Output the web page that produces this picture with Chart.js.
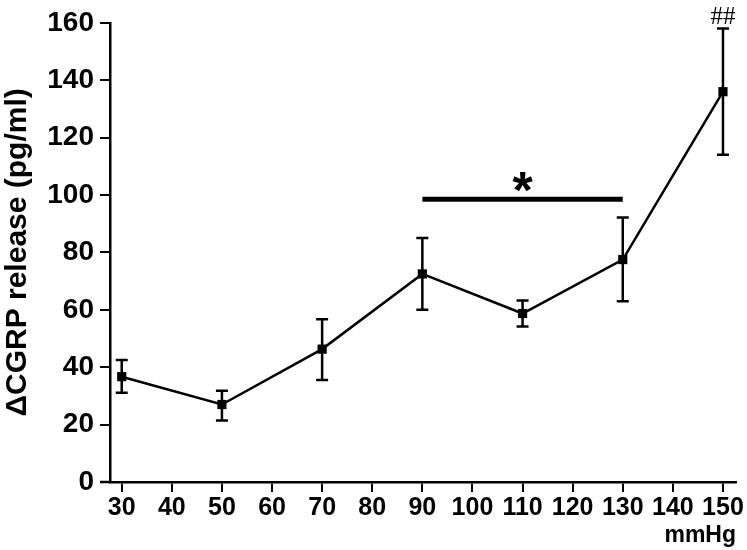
<!DOCTYPE html>
<html>
<head>
<meta charset="utf-8">
<script src="https://cdn.jsdelivr.net/npm/chart.js@4.4.1/dist/chart.umd.min.js"></script>
<style>
  html, body { margin: 0; padding: 0; background: #fff; }
  #wrap { width: 747px; height: 550px; }
</style>
</head>
<body>
<div id="wrap"><canvas id="cgrpChart" width="747" height="550"></canvas></div>
<script>
// pressure steps (mmHg) and CGRP release
const pressures = [30, 50, 70, 90, 110, 130, 150];
const cgrp = [36.7, 27.0, 46.3, 72.5, 58.7, 77.5, 136.0];
const errLow = [31.1, 21.4, 35.5, 60.0, 54.2, 63.0, 114.0];
const errHigh = [42.5, 31.8, 56.7, 85.0, 63.2, 92.2, 158.0];

const xTicks = [30, 40, 50, 60, 70, 80, 90, 100, 110, 120, 130, 140, 150];
const yTicks = [0, 20, 40, 60, 80, 100, 120, 140, 160];

// significance marks
const sigFrom = 90;
const sigTo = 130;
const sigLevel = 98.5;
const sigLabel = '*';
const hashIndex = 6;
const hashLabel = '##';

const ctx = document.getElementById('cgrpChart');
Chart.defaults.font.family = "'Liberation Sans', Arial, sans-serif";
Chart.defaults.color = '#000';

const errorBars = {
    id: 'errorBars',
    beforeDatasetsDraw(chart) {
        const c = chart.ctx;
        const xs = chart.scales.x;
        const ys = chart.scales.y;
        c.save();
        c.strokeStyle = '#000';
        c.lineWidth = 2.5;
        for (let i = 0; i < pressures.length; i++) {
            const x = xs.getPixelForValue(pressures[i]);
            const yt = ys.getPixelForValue(errHigh[i]);
            const yb = ys.getPixelForValue(errLow[i]);
            c.beginPath();
            c.moveTo(x, yt); c.lineTo(x, yb);
            c.moveTo(x - 6, yt); c.lineTo(x + 6, yt);
            c.moveTo(x - 6, yb); c.lineTo(x + 6, yb);
            c.stroke();
        }
        c.restore();
    },
    afterDraw(chart) {
        const c = chart.ctx;
        const xs = chart.scales.x;
        const ys = chart.scales.y;
        const area = chart.chartArea;
        c.save();
        // x axis runs a little past the y axis
        c.strokeStyle = '#000';
        c.lineWidth = 2.5;
        c.beginPath();
        c.moveTo(area.left - 10, area.bottom);
        c.lineTo(area.left, area.bottom);
        c.stroke();

        // significance bar with star
        const y = ys.getPixelForValue(sigLevel);
        c.lineWidth = 5;
        c.beginPath();
        c.moveTo(xs.getPixelForValue(sigFrom), y);
        c.lineTo(xs.getPixelForValue(sigTo), y);
        c.stroke();
        c.font = "bold 52px 'Liberation Sans', Arial, sans-serif";
        c.textAlign = 'center';
        c.textBaseline = 'alphabetic';
        let m = c.measureText(sigLabel);
        const starX = xs.getPixelForValue((sigFrom + sigTo) / 2);
        const starY = y - 17;
        c.fillStyle = '#000';
        c.fillText(sigLabel, starX, starY + (m.actualBoundingBoxAscent - m.actualBoundingBoxDescent) / 2);

        // ## over the last point
        c.font = "25px 'Liberation Serif', 'Times New Roman', serif";
        m = c.measureText(hashLabel);
        const hx = xs.getPixelForValue(pressures[hashIndex]);
        const hy = ys.getPixelForValue(errHigh[hashIndex]) - 13;
        c.fillText(hashLabel, hx, hy + (m.actualBoundingBoxAscent - m.actualBoundingBoxDescent) / 2);
        c.restore();
    }
};

new Chart(ctx, {
    type: 'line',
    data: {
        datasets: [{
            label: 'CGRP',
            data: pressures.map((p, i) => ({ x: p, y: cgrp[i] })),
            borderColor: '#000',
            borderWidth: 2.5,
            backgroundColor: '#000',
            pointStyle: 'rect',
            pointRadius: 6.5,
            pointBorderWidth: 0,
            tension: 0,
            clip: false,
        }]
    },
    options: {
        responsive: false,
        animation: false,
        layout: { padding: { top: 21, right: 11, left: 0, bottom: 0 } },
        plugins: {
            legend: { display: false },
            tooltip: { enabled: false },
        },
        scales: {
            x: {
                type: 'linear',
                min: 27.66,
                max: 152.6,
                afterBuildTicks: (s) => { s.ticks = xTicks.map(v => ({ value: v })); },
                afterFit: (s) => { s.height = 68; },
                grid: { drawOnChartArea: false, drawTicks: true, tickLength: 10, color: '#000', lineWidth: 2 },
                border: { display: true, color: '#000', width: 2.5 },
                ticks: { font: { size: 25, weight: 'bold' }, padding: 1, maxRotation: 0, autoSkip: false },
                title: {
                    display: true, text: 'mmHg', align: 'end',
                    font: { size: 23, weight: 'bold' }, padding: { top: 0, bottom: 1 }
                }
            },
            y: {
                min: 0,
                max: 160,
                afterBuildTicks: (s) => { s.ticks = yTicks.map(v => ({ value: v })); },
                afterFit: (s) => { s.width = 110; },
                grid: { drawOnChartArea: false, drawTicks: true, tickLength: 10, color: '#000', lineWidth: 2 },
                border: { display: true, color: '#000', width: 2.5 },
                ticks: { font: { size: 28, weight: 'bold' }, padding: 6 },
                title: {
                    display: true, text: 'ΔCGRP release (pg/ml)',
                    font: { size: 30, weight: 'bold' }, padding: { top: 0, bottom: 0 }
                }
            }
        }
    },
    plugins: [errorBars]
});
</script>
</body>
</html>
